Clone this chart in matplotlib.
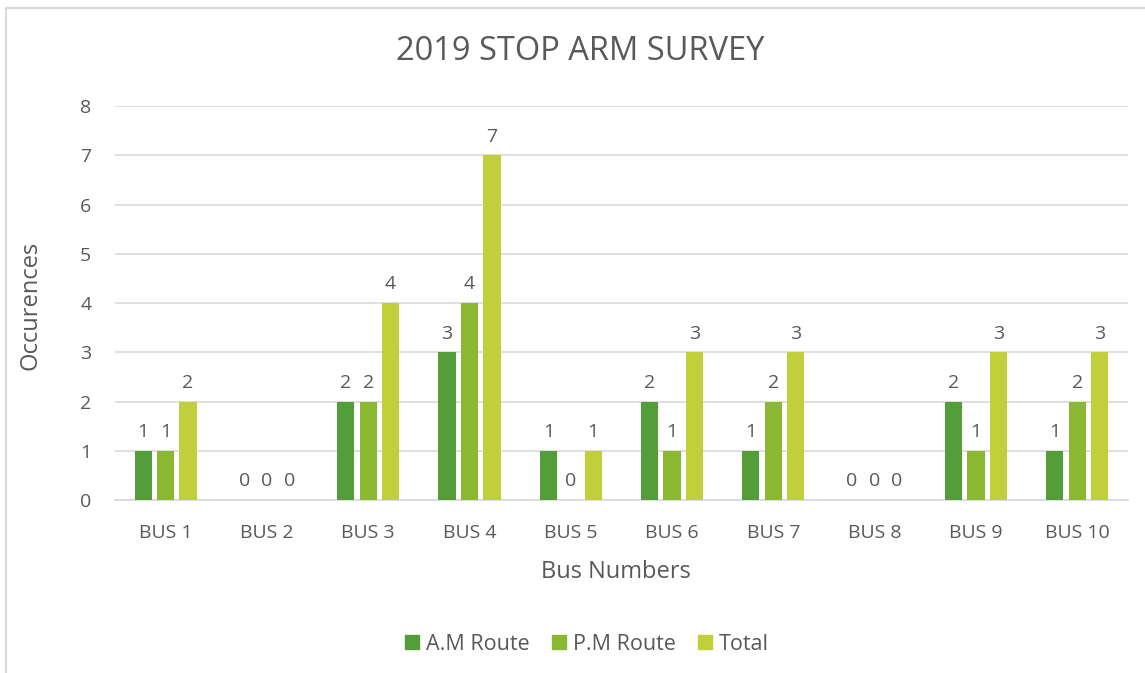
import numpy as np
import matplotlib.pyplot as plt
from matplotlib.lines import Line2D

plt.rcParams['font.family'] = ['Open Sans', 'DejaVu Sans']

buses = ["BUS 1", "BUS 2", "BUS 3", "BUS 4", "BUS 5",
         "BUS 6", "BUS 7", "BUS 8", "BUS 9", "BUS 10"]
am_route = [1, 0, 2, 3, 1, 2, 1, 0, 2, 1]
pm_route = [1, 0, 2, 4, 0, 1, 2, 0, 1, 2]
total = [2, 0, 4, 7, 1, 3, 3, 0, 3, 3]

series = [("A.M Route", am_route, "#549E39"),
          ("P.M Route", pm_route, "#8AB833"),
          ("Total", total, "#C0CF3A")]

txt = "#595959"
grid = "#D9D9D9"

fig = plt.figure(figsize=(11.45, 6.73), dpi=100)
ax = fig.add_axes([0.1004, 0.257, 0.8846, 0.5855])

x = np.arange(len(buses))
w = 0.17
step = 0.222
for i, (name, vals, col) in enumerate(series):
    pos = x + (i - 1) * step
    ax.bar(pos, vals, width=w, color=col, label=name, zorder=3)
    for p, v in zip(pos, vals):
        ax.annotate(str(v), (p, v), xytext=(0, 7), textcoords="offset points",
                    ha="center", va="bottom", fontsize=14, color=txt)

ax.set_xlim(-0.5, len(buses) - 0.5)
ax.set_ylim(0, 8)
ax.set_yticks(range(0, 9))
ax.set_xticks(x)
ax.set_xticklabels(buses)
ax.tick_params(axis="both", length=0, labelsize=14, labelcolor=txt)
ax.tick_params(axis="x", pad=17)
ax.tick_params(axis="y", pad=17)
ax.yaxis.grid(True, color=grid, linewidth=1.2, zorder=0)
for s in ["top", "right", "left"]:
    ax.spines[s].set_visible(False)
ax.spines["bottom"].set_color(grid)
ax.spines["bottom"].set_linewidth(1.2)

fig.text(0.5376, 1 - 572 / 673, "Bus Numbers", ha="center", va="center",
         fontsize=17, color=txt)
fig.text(30 / 1145, 1 - 305 / 673, "Occurences", ha="center", va="center",
         rotation=90, fontsize=17, color=txt)
fig.text(0.507, 1 - 52 / 673, "2019 STOP ARM SURVEY", ha="center", va="center",
         fontsize=23.5, color=txt)

handles = [Line2D([], [], marker="s", linestyle="none", markersize=10,
                  color=c, label=n) for n, _, c in series]
fig.legend(handles=handles, loc="center", bbox_to_anchor=(0.5125, 1 - 644 / 673),
           ncol=3, frameon=False, fontsize=15.5, labelcolor=txt,
           handlelength=0.7, handletextpad=0.3, columnspacing=1.0)

# chart area border (left and top edges visible)
fig.add_artist(Line2D([6 / 1145, 6 / 1145], [0, 1 - 8 / 673],
                      transform=fig.transFigure, color=grid, linewidth=1.5))
fig.add_artist(Line2D([6 / 1145, 1], [1 - 8 / 673, 1 - 8 / 673],
                      transform=fig.transFigure, color=grid, linewidth=1.5))

fig.savefig("out.png", dpi=100)
